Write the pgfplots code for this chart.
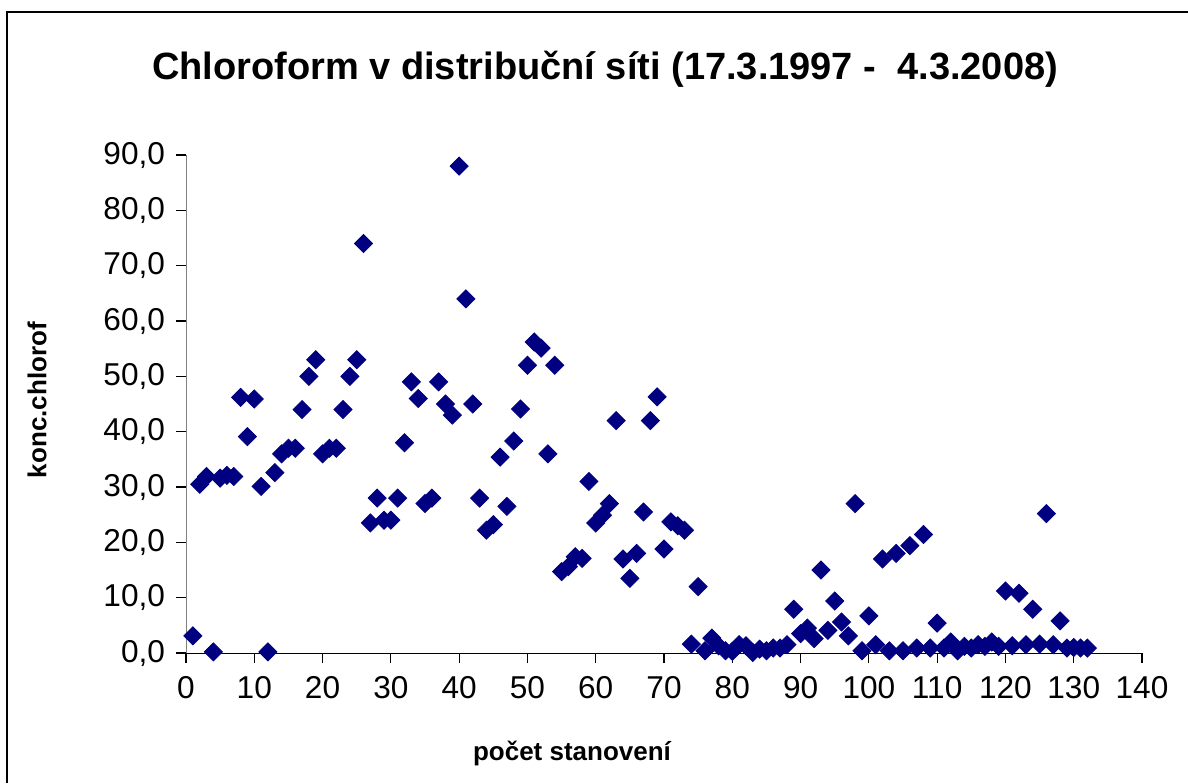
\documentclass[border=0pt]{standalone}
\usepackage{pgfplots}
\pgfplotsset{compat=1.18}
\usepackage{fontspec}
\setmainfont{Liberation Sans}
\definecolor{navyd}{RGB}{0,0,128}
\definecolor{axgray}{RGB}{128,128,128}
\pgfplotstableread{
x y
1 3.1
2 30.5
3 31.9
4 0.2
5 31.6
6 32.1
7 31.9
8 46.2
9 39.1
10 45.9
11 30.1
12 0.2
13 32.6
14 36.0
15 37.0
16 37.0
17 44.0
18 50.0
19 53.0
20 36.0
21 37.0
22 37.0
23 44.0
24 50.0
25 53.0
26 74.0
27 23.5
28 28.0
29 24.0
30 24.0
31 28.0
32 38.0
33 49.0
34 46.0
35 27.0
36 28.0
37 49.0
38 45.0
39 43.0
40 88.0
41 64.0
42 45.0
43 28.0
44 22.2
45 23.2
46 35.4
47 26.5
48 38.3
49 44.1
50 52.0
51 56.2
52 55.1
53 36.0
54 52.0
55 14.7
56 15.6
57 17.4
58 17.1
59 31.0
60 23.5
61 24.9
62 27.0
63 42.0
64 17.0
65 13.5
66 18.0
67 25.5
68 42.0
69 46.3
70 18.8
71 23.7
72 23.0
73 22.2
74 1.6
75 12.0
76 0.4
77 2.7
78 1.3
79 0.4
80 0.3
81 1.5
82 1.3
83 0.1
84 0.7
85 0.4
86 0.9
87 0.9
88 1.5
89 7.9
90 3.5
91 4.5
92 2.6
93 15.0
94 4.1
95 9.4
96 5.6
97 3.1
98 27.0
99 0.4
100 6.7
101 1.5
102 17.0
103 0.4
104 18.0
105 0.4
106 19.4
107 0.9
108 21.4
109 0.9
110 5.4
111 0.9
112 2.0
113 0.4
114 1.2
115 0.9
116 1.5
117 1.2
118 2.0
119 1.2
120 11.2
121 1.3
122 10.8
123 1.5
124 7.9
125 1.6
126 25.2
127 1.5
128 5.8
129 0.9
130 1.0
131 0.9
132 0.9
}\chloro
\begin{document}
\begin{tikzpicture}
% page frame (1188x783 px at 0.5pt/px)
\path[use as bounding box] (0,0) rectangle (594pt,391.5pt);
\draw[line width=1pt, black] (3.6pt,0pt) -- (3.6pt,385.5pt) -- (594pt,385.5pt);
\node[font=\fontsize{19}{22}\selectfont\bfseries] at (302.5pt,357pt) {Chloroform v distribuční síti (17.3.1997 -\ \ 4.3.2008)};
\node[font=\fontsize{13}{15}\selectfont\bfseries] at (286pt,15pt) {počet stanovení};
\node[font=\fontsize{13}{15}\selectfont\bfseries, rotate=90] at (18.5pt,191.5pt) {konc.chlorof};
\begin{axis}[
  at={(93pt,65pt)}, anchor=south west,
  scale only axis, width=478pt, height=249pt,
  xmin=0, xmax=140, ymin=0, ymax=90,
  xtick={0,10,...,140}, ytick={0,10,...,90},
  axis x line*=bottom, axis y line*=left,
  x axis line style={black, -},
  y axis line style={axgray, -},
  tick align=outside, major tick length=5pt,
  tick style={black, line width=0.6pt},
  clip=false,
  ticklabel style={font=\fontsize{15.8}{18}\selectfont},
  /pgf/number format/assume math mode=true,
  y tick label style={/pgf/number format/fixed, /pgf/number format/fixed zerofill, /pgf/number format/precision=1, /pgf/number format/use comma, xshift=-2pt},
  x tick label style={yshift=-3pt},
]
\addplot[only marks, mark=square*, mark size=3.2pt,
  mark options={rotate=45, fill=navyd, draw=navyd}] table[x=x,y=y] {\chloro};
\end{axis}
\end{tikzpicture}
\end{document}
